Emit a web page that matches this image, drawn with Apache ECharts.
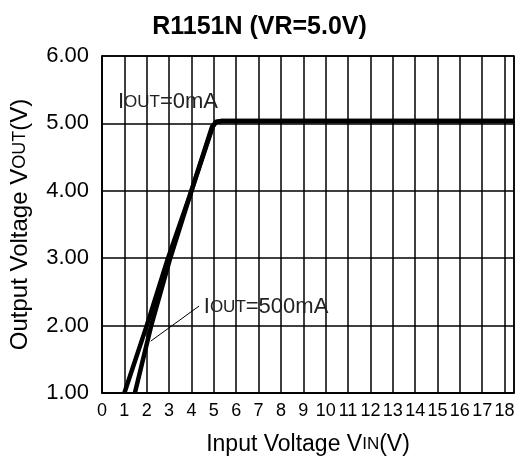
<!DOCTYPE html>
<html>
<head>
<meta charset="utf-8">
<script src="https://cdn.jsdelivr.net/npm/echarts@6/dist/echarts.min.js"></script>
<style>html,body{margin:0;padding:0;background:#fff}#c{width:519px;height:468px}</style>
</head>
<body>
<div id="c"></div>
<script>
// X tick labels (Input voltage)
var xTicks = [0,1,2,3,4,5,6,7,8,9,10,11,12,13,14,15,16,17,18];
// Y tick labels (Output voltage)
var yTicks = [1,2,3,4,5,6];
// IOUT = 0mA curve
var vin0  = [1.0, 2.0, 2.95, 4.0, 4.95, 5.1, 5.35, 18.42];
var vout0 = [1.0, 2.0, 3.0, 4.0, 4.95, 5.02, 5.035, 5.035];
// IOUT = 500mA curve
var vin1  = [1.47, 2.2, 3.05, 4.0, 4.92, 5.1, 5.35, 18.42];
var vout1 = [1.0, 2.0, 3.0, 4.0, 4.95, 5.02, 5.035, 5.035];

var FONT = 'Liberation Sans, Arial, Helvetica, sans-serif';
function pairs(xs, ys){ return xs.map(function(x,i){ return [x, ys[i]]; }); }

var chart = echarts.init(document.getElementById('c'), null, {renderer:'canvas'});
var labelRich = {
  a:{fontSize:22, fontFamily:FONT, color:'#222'},
  s:{fontSize:17, fontFamily:FONT, color:'#222'}
};
chart.setOption({
  animation:false,
  backgroundColor:'#fff',
  title:{
    text:'R1151N (VR=5.0V)', left:'center', top:10,
    textStyle:{fontSize:25, fontWeight:'bold', fontFamily:FONT, color:'#000'}
  },
  grid:{left:101, right:5, top:56, bottom:75, show:true, borderColor:'#000', borderWidth:1.5, backgroundColor:'transparent'},
  xAxis:{
    type:'value', min:0, max:18.42, interval:1,
    name:'{a|Input Voltage V}{s|IN}{a|(V)}', nameLocation:'middle', nameGap:40,
    nameTextStyle:{rich:{a:{fontSize:23,fontFamily:FONT,color:'#000'}, s:{fontSize:17,fontFamily:FONT,color:'#000'}}},
    axisLine:{lineStyle:{color:'#000', width:1.5}},
    axisTick:{show:false},
    splitLine:{show:true, lineStyle:{color:'#000', width:1.5}},
    axisLabel:{fontSize:18, fontFamily:FONT, color:'#000', margin:9,
      formatter:function(v){ return xTicks.indexOf(v) >= 0 ? String(v) : ''; }}
  },
  yAxis:{
    type:'value', min:1, max:6, interval:1,
    name:'{a|Output Voltage V}{s|OUT}{a|(V)}', nameLocation:'middle', nameGap:70, nameRotate:90,
    nameTextStyle:{rich:{a:{fontSize:24,fontFamily:FONT,color:'#000'}, s:{fontSize:18,fontFamily:FONT,color:'#000'}}},
    axisLine:{lineStyle:{color:'#000', width:1.5}},
    axisTick:{show:false},
    splitLine:{show:true, lineStyle:{color:'#000', width:1.5}},
    axisLabel:{fontSize:22, fontFamily:FONT, color:'#000', margin:13,
      formatter:function(v){ return yTicks.indexOf(v) >= 0 ? v.toFixed(2) : ''; }}
  },
  series:[
    {
      type:'line', data:pairs(vin0, vout0), showSymbol:false, smooth:false,
      lineStyle:{color:'#000', width:4.5, join:'round'}, z:5,
      markPoint:{
        symbol:'circle', symbolSize:0,
        label:{show:true, position:'right', distance:0, formatter:'{a|I}{s|OUT}{a|=0mA}', rich:labelRich},
        data:[{coord:[0.71, 5.32]}]
      }
    },
    {
      type:'line', data:pairs(vin1, vout1), showSymbol:false, smooth:false,
      lineStyle:{color:'#000', width:4.5, join:'round'}, z:5,
      markPoint:{
        symbol:'circle', symbolSize:0,
        label:{show:true, position:'right', distance:0, formatter:'{a|I}{s|OUT}{a|=500mA}', rich:labelRich},
        data:[{coord:[4.55, 2.27]}]
      },
      markLine:{
        symbol:'none', silent:true, label:{show:false},
        lineStyle:{color:'#000', width:1, type:'solid'},
        data:[[{coord:[4.34, 2.29]}, {coord:[2.18, 1.77]}]]
      }
    }
  ]
});
</script>
</body>
</html>
